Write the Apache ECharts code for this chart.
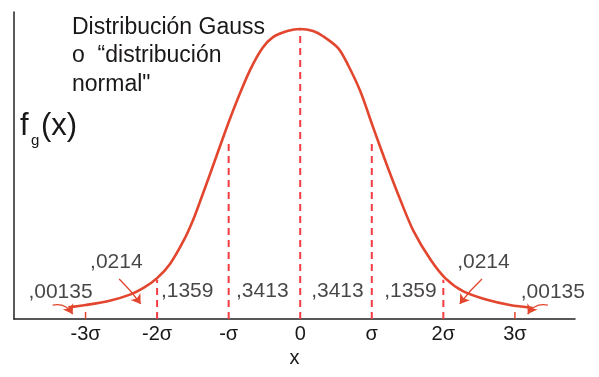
<!DOCTYPE html>
<html><head><meta charset="utf-8">
<script src="https://cdn.jsdelivr.net/npm/echarts@6/dist/echarts.min.js"></script>
<style>html,body{margin:0;padding:0;background:#fff}#c{width:599px;height:377px}</style>
</head><body><div id="c"></div>
<script>
// curve points (x in σ units, height relative to the peak)
const curveX = [-3.24,-3.0,-2.65,-2.37,-2.19,-2.0,-1.82,-1.63,-1.5,-1.4,-1.26,-1.05,-0.88,-0.7,-0.53,-0.38,-0.18,0,0.18,0.32,0.53,0.67,0.84,1.02,1.22,1.4,1.58,1.82,2.03,2.28,2.61,2.93,3.25];
const curveY = [0.04,0.048,0.064,0.085,0.107,0.141,0.19,0.27,0.34,0.405,0.5,0.645,0.755,0.859,0.934,0.972,0.993,1.0,0.993,0.975,0.934,0.875,0.785,0.66,0.525,0.41,0.305,0.205,0.14,0.095,0.066,0.048,0.038];
// dashed dividers
const dividerX = [-2,-1,0,1,2];
const dividerTop = [0.135,0.615,0.995,0.615,0.135];
// short solid marks at ±3σ
const markX = [-3,3];
const markTop = [0.024,0.024];
// region probabilities
const labelText = [",00135",",0214",",1359",",3413",",3413",",1359",",0214",",00135"];
const labelX = [-3.35,-2.57,-1.58,-0.53,0.52,1.54,2.56,3.53];
const labelY = [0.093,0.197,0.097,0.097,0.097,0.097,0.197,0.093];
// arrows
const arrowFrom = [[-3.46,0.048],[-2.53,0.138],[2.54,0.138],[3.46,0.048]];
const arrowTo = [[-3.18,0.017],[-2.23,0.052],[2.23,0.052],[3.18,0.017]];
const arrowCurve = [0.35,0.05,-0.05,-0.35];
// tick labels
const tickValues = [-3,-2,-1,0,1,2,3];
const tickLabels = ["-3σ","-2σ","-σ","0","σ","2σ","3σ"];
const titleLines = ["Distribución Gauss","o  “distribución","normal\""];

const RED = '#e2462e', DASH = '#f43c44', INK = '#1a1718';
const FONT = '"Liberation Sans", Arial, Helvetica, sans-serif';
const chart = echarts.init(document.getElementById('c'));

const series = [];
series.push({type:'line', data: curveX.map((x,i)=>[x,curveY[i]]), smooth:0.3, showSymbol:false,
  lineStyle:{color:RED,width:2.6}, z:5, silent:true});
dividerX.forEach((x,i)=>{
  series.push({type:'line', data:[[x,0],[x,dividerTop[i]]], showSymbol:false,
    lineStyle:{color:DASH,width:2,type:[7,5]}, z:3, silent:true});
});
markX.forEach((x,i)=>{
  series.push({type:'line', data:[[x,0],[x,markTop[i]]], showSymbol:false,
    lineStyle:{color:RED,width:1.5}, z:3, silent:true});
});
series.push({type:'scatter', symbolSize:0, silent:true,
  data: labelX.map((x,i)=>({value:[x,labelY[i]], name:labelText[i]})),
  label:{show:true, formatter:p=>p.name, position:'inside', color:INK, textBorderWidth:0, fontSize:21, fontFamily:FONT}});
series.push({type:'lines', coordinateSystem:'cartesian2d', silent:true, z:6,
  symbol:['none','arrow'], symbolSize:9,
  data: arrowFrom.map((f,i)=>({coords:[f,arrowTo[i]], lineStyle:{curveness:arrowCurve[i]}})),
  lineStyle:{color:RED,width:1.4,opacity:1}});

chart.setOption({
  animation:false,
  grid:{left:14,right:24,top:12,bottom:58},
  xAxis:{type:'value',min:-4,max:3.84,interval:1,
    axisLine:{show:true,onZero:false,lineStyle:{color:'#222',width:1.5}},
    axisTick:{show:false}, splitLine:{show:false},
    axisLabel:{color:INK,fontSize:20,fontFamily:FONT,margin:5,
      formatter:v=>{const k=tickValues.indexOf(Math.round(v));return k<0?'':tickLabels[k];}},
    name:'x', nameLocation:'middle', nameGap:28, nameTextStyle:{color:INK,fontSize:20,fontFamily:FONT}},
  yAxis:{type:'value',min:0,max:1.0586,
    axisLine:{show:true,onZero:false,lineStyle:{color:'#222',width:1.5}},
    axisTick:{show:false},axisLabel:{show:false},splitLine:{show:false}},
  graphic:[
    ...titleLines.map((t,i)=>({type:'text',left:72,top:16+i*28.5,style:{text:t,fill:INK,font:'23px '+FONT}})),
    {type:'text',left:20,top:111,style:{text:'f',fill:INK,font:'31px '+FONT}},
    {type:'text',left:31,top:133,style:{text:'g',fill:INK,font:'15px '+FONT}},
    {type:'text',left:41,top:111,style:{text:'(x)',fill:INK,font:'31px '+FONT}}
  ],
  series
});
</script></body></html>
